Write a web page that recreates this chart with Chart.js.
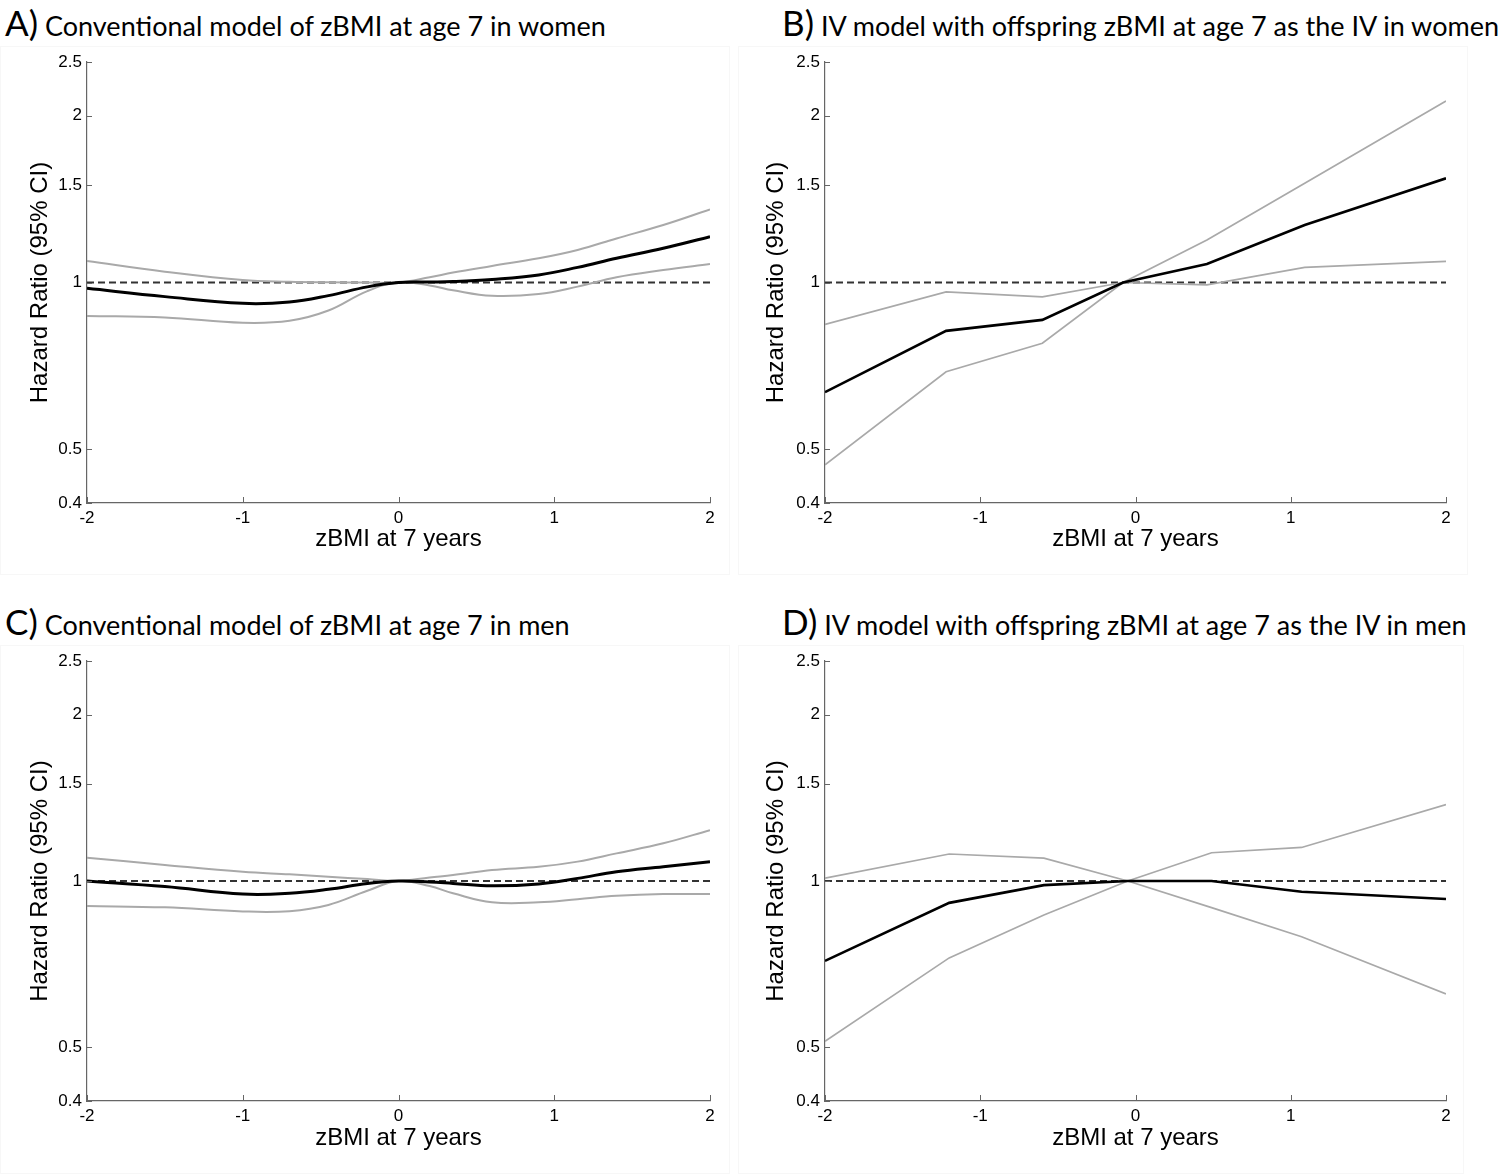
<!DOCTYPE html>
<html>
<head>
<meta charset="utf-8">
<script src="https://cdn.jsdelivr.net/npm/chart.js@4.4.1/dist/chart.umd.min.js"></script>
<style>
  body { margin: 0; background: #fff; width: 1506px; height: 1174px; position: relative; overflow: hidden; font-family: Lato, "Open Sans", sans-serif; }
  .box { position: absolute; border: 1px solid #f7f7f7; }
  .ttl { position: absolute; white-space: nowrap; color: #000; font-size: 27px; line-height: 40px; }
  .ttl b { font-weight: normal; font-size: 35px; }
  .cv { position: absolute; width: 740px; height: 540px; }
</style>
</head>
<body>
<div class="box" style="left:0;top:46px;width:728px;height:527px"></div>
<div class="box" style="left:738px;top:46px;width:728px;height:527px"></div>
<div class="box" style="left:0;top:645px;width:728px;height:527px"></div>
<div class="box" style="left:738px;top:645px;width:724px;height:527px"></div>

<div class="ttl" style="left:5px;top:2px"><b>A)</b> Conventional model of zBMI at age 7 in women</div>
<div class="ttl" style="left:782px;top:2px"><b>B)</b> IV model with offspring zBMI at age 7 as the IV in women</div>
<div class="ttl" style="left:5px;top:601px"><b>C)</b> Conventional model of zBMI at age 7 in men</div>
<div class="ttl" style="left:782px;top:601px"><b>D)</b> IV model with offspring zBMI at age 7 as the IV in men</div>

<div class="cv" style="left:0;top:40px"><canvas id="panelA"></canvas></div>
<div class="cv" style="left:740px;top:40px"><canvas id="panelB"></canvas></div>
<div class="cv" style="left:0;top:639px"><canvas id="panelC"></canvas></div>
<div class="cv" style="left:740px;top:639px"><canvas id="panelD"></canvas></div>

<script>
// axes
var xTicks = [-2, -1, 0, 1, 2];
var yTicks = [0.4, 0.5, 1, 1.5, 2, 2.5];
var yTickLabels = ["0.4", "0.5", "1", "1.5", "2", "2.5"];
var refX = [-2, 2];
var refY = [1, 1];

// #A conventional model, women (smooth curves)
var zA    = [-2, -1.5, -1, -0.7, -0.45, -0.2, 0, 0.2, 0.35, 0.6, 0.9, 1.15, 1.4, 1.7, 2];
var hrA   = [0.976, 0.943, 0.917, 0.922, 0.947, 0.982, 1.0, 1.002, 1.004, 1.013, 1.032, 1.065, 1.106, 1.153, 1.21];
var ci1A  = [1.093, 1.046, 1.01, 1.003, 1.001, 1.0, 1.0, 1.022, 1.042, 1.071, 1.106, 1.145, 1.201, 1.27, 1.355];
var ci2A  = [0.870, 0.865, 0.846, 0.853, 0.890, 0.965, 1.0, 0.988, 0.968, 0.946, 0.953, 0.983, 1.022, 1.053, 1.080];

// #B IV model, women (piecewise linear)
var zB    = [-2, -1.22, -0.6, -0.08, 0.46, 1.09, 2];
var hrB   = [0.634, 0.818, 0.856, 1.0, 1.080, 1.27, 1.542];
var ci1B  = [0.840, 0.962, 0.942, 1.0, 0.990, 1.065, 1.092];
var ci2B  = [0.469, 0.690, 0.777, 1.0, 1.193, 1.51, 2.126];

// #C conventional model, men (smooth curves)
var zC    = [-2, -1.5, -1, -0.7, -0.45, -0.2, 0, 0.2, 0.35, 0.6, 0.9, 1.15, 1.4, 1.7, 2];
var hrC   = [1.0, 0.977, 0.947, 0.950, 0.966, 0.990, 1.0, 0.996, 0.990, 0.980, 0.988, 1.011, 1.039, 1.061, 1.084];
var ci1C  = [1.102, 1.069, 1.039, 1.028, 1.018, 1.008, 1.0, 1.015, 1.025, 1.047, 1.061, 1.084, 1.122, 1.17, 1.236];
var ci2C  = [0.901, 0.896, 0.881, 0.882, 0.905, 0.960, 1.0, 0.979, 0.950, 0.915, 0.915, 0.927, 0.940, 0.947, 0.947];

// #D IV model, men (piecewise linear)
var zD    = [-2, -1.2, -0.59, -0.05, 0.49, 1.07, 2];
var hrD   = [0.717, 0.913, 0.983, 1.0, 1.0, 0.956, 0.928];
var ci1D  = [1.012, 1.119, 1.10, 1.0, 0.895, 0.793, 0.625];
var ci2D  = [0.513, 0.726, 0.868, 1.0, 1.125, 1.15, 1.375];

var axisFont = "'Liberation Sans', Arial, sans-serif";

// MATLAB style ticks pointing into the plot
var inwardTicks = {
  id: "inwardTicks",
  afterDraw: function (chart) {
    var ctx = chart.ctx, a = chart.chartArea, x = chart.scales.x, y = chart.scales.y;
    ctx.save();
    ctx.strokeStyle = "#666";
    ctx.lineWidth = 1;
    ctx.beginPath();
    xTicks.forEach(function (v) {
      var px = Math.round(x.getPixelForValue(v)) + 0.5;
      ctx.moveTo(px, a.bottom);
      ctx.lineTo(px, a.bottom - 6);
    });
    yTicks.forEach(function (v) {
      var py = Math.round(y.getPixelForValue(v)) + 0.5;
      ctx.moveTo(a.left, py);
      ctx.lineTo(a.left + 5, py);
    });
    ctx.stroke();
    ctx.restore();
  }
};

function series(z, v, color, width, order, smooth) {
  return {
    data: z.map(function (x, i) { return {x: x, y: v[i]}; }),
    borderColor: color,
    borderWidth: width,
    pointRadius: 0,
    fill: false,
    order: order,
    tension: smooth ? 0.4 : 0
  };
}

// box = page position of the canvas, plot = wanted chart area
function panel(id, box, plot, z, hr, ci1, ci2, smooth, titleX) {
  var ref = series(refX, refY, "#333", 1.9, 3, false);
  ref.borderDash = [7, 4];
  new Chart(id, {
    type: "line",
    data: {
      datasets: [
        series(z, hr, "#000", smooth ? 3 : 2.6, 0, smooth),
        series(z, ci1, "#a9a9a9", smooth ? 2 : 1.7, 1, smooth),
        series(z, ci2, "#a9a9a9", smooth ? 2 : 1.7, 2, smooth),
        ref
      ]
    },
    plugins: [inwardTicks],
    options: {
      responsive: true,
      maintainAspectRatio: false,
      animation: false,
      layout: {padding: {left: 0, top: plot.top - box.top, right: box.left + 740 - plot.right, bottom: 0}},
      plugins: {legend: {display: false}, tooltip: {enabled: false}},
      scales: {
        x: {
          type: "linear",
          min: -2,
          max: 2,
          afterBuildTicks: function (s) { s.ticks = xTicks.map(function (v) { return {value: v}; }); },
          afterFit: function (s) { s.height = box.top + 540 - plot.bottom; },
          grid: {display: false, drawTicks: false},
          border: {display: true, color: "#666", width: 1.2},
          ticks: {color: "#000", padding: 5, font: {family: axisFont, size: 17},
                  callback: function (v) { return String(v); }},
          title: {display: true, text: "zBMI at 7 years", color: "#000",
                  font: {family: axisFont, size: 24}, padding: {top: 0, bottom: 26}}
        },
        y: {
          type: "logarithmic",
          min: 0.4,
          max: 2.5,
          afterBuildTicks: function (s) { s.ticks = yTicks.map(function (v) { return {value: v}; }); },
          afterFit: function (s) { s.width = plot.left - box.left; },
          grid: {display: false, drawTicks: false},
          border: {display: true, color: "#666", width: 1.2},
          ticks: {color: "#000", padding: 5, font: {family: axisFont, size: 17},
                  callback: function (v, i) { return yTickLabels[i]; }},
          title: {display: true, text: "Hazard Ratio (95% CI)", color: "#000",
                  font: {family: axisFont, size: 24}, padding: {top: titleX - 14.4, bottom: 0}}
        }
      }
    }
  });
}

panel("panelA", {left: 0, top: 40},   {left: 87,  right: 710,  top: 62,  bottom: 503},  zA, hrA, ci1A, ci2A, true, 40);
panel("panelB", {left: 740, top: 40}, {left: 825, right: 1446, top: 62,  bottom: 503},  zB, hrB, ci1B, ci2B, false, 36);
panel("panelC", {left: 0, top: 639},  {left: 87,  right: 710,  top: 661, bottom: 1101}, zC, hrC, ci1C, ci2C, true, 40);
panel("panelD", {left: 740, top: 639},{left: 825, right: 1446, top: 661, bottom: 1101}, zD, hrD, ci1D, ci2D, false, 36);
</script>
</body>
</html>
